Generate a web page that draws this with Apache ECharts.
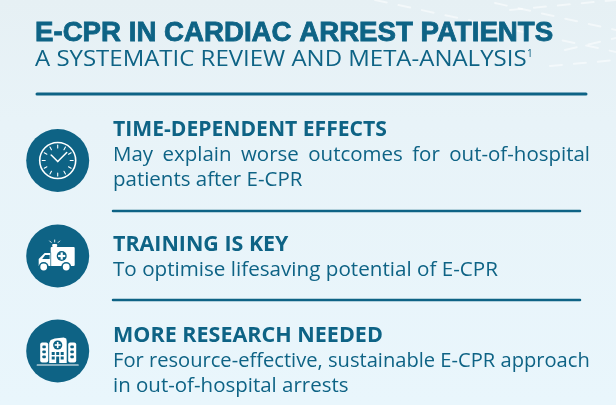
<!DOCTYPE html>
<html>
<head>
    <meta charset="utf-8">
    <title>E-CPR in cardiac arrest patients</title>
    <style>
        html, body { margin: 0; padding: 0; background: #e8f4fa; }
        #chart { width: 616px; height: 405px; }
    </style>
    <script src="https://cdn.jsdelivr.net/npm/echarts@6/dist/echarts.min.js"></script>
</head>
<body>
<div id="chart"></div>
<script type="text/javascript">
    var headline = 'E-CPR IN CARDIAC ARREST PATIENTS';
    var subline = 'A SYSTEMATIC REVIEW AND META-ANALYSIS';
    var footnoteMark = '1';
    var itemTitles = ['TIME-DEPENDENT EFFECTS', 'TRAINING IS KEY', 'MORE RESEARCH NEEDED'];
    var itemLines = [
        ['May explain worse outcomes for out-of-hospital', 'patients after E-CPR'],
        ['To optimise lifesaving potential of E-CPR'],
        ['For resource-effective, sustainable E-CPR approach', 'in out-of-hospital arrests']
    ];

    var TEAL = '#0e6385';
    var SANS = '"Open Sans", sans-serif';
    var BODY_SIZE = 19.5;
    var BODY_STRETCH = 1.05;
    var els = [];

    // canvas only used for measuring words
    var measure = document.createElement('canvas').getContext('2d');

    // letterSpacing is ignored here, so widths are matched with scaleX
    function addText(str, x, y, size, weight, family, stretch, outline) {
        els.push({
            type: 'text',
            x: x, y: y, scaleX: stretch || 1,
            style: {
                text: str, x: 0, y: 0, fill: TEAL, fontSize: size, fontWeight: weight,
                fontFamily: family || SANS, verticalAlign: 'middle',
                stroke: outline ? TEAL : null, lineWidth: outline || 0
            }
        });
    }

    function addBody(str, y, stretch) {
        addText(str, 113, y, BODY_SIZE, 400, SANS, stretch || BODY_STRETCH);
    }

    function addRule(x1, x2, y, width) {
        els.push({
            type: 'line',
            shape: { x1: x1, y1: y, x2: x2, y2: y },
            style: { stroke: TEAL, lineWidth: width, lineCap: 'round' }
        });
    }

    // spreads the words so that the line ends at x2
    function addJustified(str, x1, x2, y) {
        var words = str.split(' ');
        measure.font = BODY_SIZE + 'px "Open Sans"';
        function wordWidth(w) { return measure.measureText(w).width * BODY_STRETCH; }
        var used = 0;
        words.forEach(function (w) { used += wordWidth(w); });
        var gap = (x2 - x1 - used) / (words.length - 1);
        var x = x1;
        words.forEach(function (w) {
            addText(w, x, y, BODY_SIZE, 400, SANS, BODY_STRETCH);
            x += wordWidth(w) + gap;
        });
    }

    function iconDisc(cx, cy, children) {
        els.push({
            type: 'group', x: cx, y: cy,
            children: [{ type: 'circle', shape: { cx: 0, cy: 0, r: 31.5 }, style: { fill: TEAL } }].concat(children)
        });
    }

    function whiteRect(x, y, w, h, r) {
        return { type: 'rect', shape: { x: x, y: y, width: w, height: h, r: r || 0 }, style: { fill: '#fff' } };
    }
    function tealRect(x, y, w, h, r) {
        return { type: 'rect', shape: { x: x, y: y, width: w, height: h, r: r || 0 }, style: { fill: TEAL } };
    }
    function stroke(x1, y1, x2, y2, w, color) {
        return {
            type: 'line', shape: { x1: x1, y1: y1, x2: x2, y2: y2 },
            style: { stroke: color || '#fff', lineWidth: w, lineCap: 'round' }
        };
    }

    function clockIcon() {
        var parts = [{ type: 'circle', shape: { cx: 0, cy: 0, r: 18 }, style: { fill: 'none', stroke: '#fff', lineWidth: 1.6 } }];
        for (var h = 0; h < 12; h++) {
            var a = h * Math.PI / 6;
            parts.push(stroke(Math.sin(a) * 12.5, -Math.cos(a) * 12.5, Math.sin(a) * 15.5, -Math.cos(a) * 15.5, 1.1));
        }
        parts.push(stroke(0, 1, -6.5, -5.5, 1.5));
        parts.push(stroke(0, 1, 9, -8, 1.5));
        return parts;
    }

    function ambulanceIcon() {
        return [
            whiteRect(-7, -9, 24, 19, 1),
            { type: 'polygon', shape: { points: [[-6, -3], [-13, -3], [-19, 3], [-19, 10], [-6, 10]] }, style: { fill: '#fff' } },
            { type: 'polygon', shape: { points: [[-8, -1], [-12.5, -1], [-15.5, 3], [-8, 3]] }, style: { fill: TEAL } },
            stroke(-7, -3, -7, 10, 0.7, TEAL),
            { type: 'circle', shape: { cx: 4, cy: 0, r: 5 }, style: { fill: TEAL } },
            whiteRect(2.9, -3.6, 2.2, 7.2),
            whiteRect(0.4, -1.1, 7.2, 2.2),
            { type: 'circle', shape: { cx: -14, cy: 11, r: 5 }, style: { fill: TEAL } },
            { type: 'circle', shape: { cx: 8.5, cy: 11, r: 5 }, style: { fill: TEAL } },
            { type: 'circle', shape: { cx: -14, cy: 11, r: 3.4 }, style: { fill: '#fff' } },
            { type: 'circle', shape: { cx: 8.5, cy: 11, r: 3.4 }, style: { fill: '#fff' } },
            whiteRect(-5.5, -12, 5, 3, 1),
            stroke(-3, -14, -3, -16, 0.9),
            stroke(-6.5, -13.5, -8, -15, 0.9),
            stroke(0.5, -13.5, 2, -15, 0.9)
        ];
    }

    function hospitalIcon() {
        var parts = [
            stroke(-20.5, 14, 20.5, 14, 1.2),
            whiteRect(-17.5, -8.5, 8, 20, 2),
            whiteRect(10.5, -8.5, 8, 20, 2),
            { type: 'polygon', shape: { points: [[-8.5, 12], [-8.5, -8], [-7, -11], [-3, -12.5], [6, -13.5], [8.5, -12.5], [9, -10], [9, 12]] }, style: { fill: '#fff' } },
            { type: 'circle', shape: { cx: 0, cy: -6, r: 4.6 }, style: { fill: TEAL } },
            whiteRect(-0.8, -9, 1.6, 6),
            whiteRect(-3, -6.8, 6, 1.6)
        ];
        // wing windows
        [-15.3, 12.7].forEach(function (x) {
            [-5.5, -0.5, 4.5].forEach(function (y) { parts.push(tealRect(x, y, 3.4, 2.8, 0.8)); });
        });
        // main block windows, door below the middle one
        [-6, -1.5, 3].forEach(function (x) {
            [1, 5.5].forEach(function (y, row) {
                if (row === 1 && x === -1.5) return;
                parts.push(tealRect(x, y, 3, 3));
            });
        });
        parts.push(tealRect(-1.5, 5.5, 3, 6.5));
        return parts;
    }

    // background wash
    els.push({
        type: 'rect', z: -10,
        shape: { x: 0, y: 0, width: 616, height: 405 },
        style: {
            fill: new echarts.graphic.LinearGradient(0, 0, 0, 1, [
                { offset: 0, color: '#e6f0f4' },
                { offset: 0.3, color: '#e8f3f8' },
                { offset: 1, color: '#e9f6fc' }
            ])
        }
    });
    // faint dashed swirls top right
    [[375, 0, 616, 52], [495, 3, 616, 30], [550, 66, 616, 60], [565, 50, 616, 38], [510, 10, 616, 0]].forEach(function (d) {
        els.push({
            type: 'line', z: -9,
            shape: { x1: d[0], y1: d[1], x2: d[2], y2: d[3] },
            style: { stroke: 'rgba(255,255,255,0.5)', lineWidth: 2, lineDash: [12, 12], lineCap: 'round' }
        });
    });

    // header
    addText(headline, 35, 34, 27, 700, '"Liberation Sans", Arial, sans-serif', 1.024, 0.8);
    addText(subline, 35, 60, 22, 400, SANS, 1.09);
    addText(footnoteMark, 527, 54, 10, 400);
    addRule(37, 586, 94, 3);

    // items
    addText(itemTitles[0], 113, 130.5, 20.5, 700, SANS, 1.03);
    addJustified(itemLines[0][0], 113, 590, 155);
    addBody(itemLines[0][1], 180);
    addRule(113, 580, 211, 2.5);

    addText(itemTitles[1], 113, 245.5, 20.5, 700, SANS, 1.045);
    addBody(itemLines[1][0], 270, 1.058);
    addRule(113, 580, 300, 2.5);

    addText(itemTitles[2], 113, 336.5, 20.5, 700, SANS, 1.05);
    addBody(itemLines[2][0], 361, 1.032);
    addBody(itemLines[2][1], 386);

    iconDisc(57.7, 160.5, clockIcon());
    iconDisc(57.7, 256, ambulanceIcon());
    iconDisc(57.7, 351, hospitalIcon());

    var myChart = echarts.init(document.getElementById('chart'));
    myChart.setOption({
        animation: false,
        graphic: { elements: els }
    });
</script>
</body>
</html>
